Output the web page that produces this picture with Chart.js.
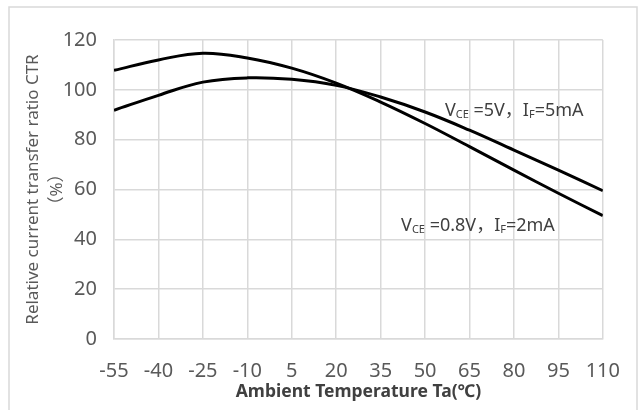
<!DOCTYPE html>
<html>
<head>
<meta charset="utf-8">
<script src="https://cdn.jsdelivr.net/npm/chart.js@4/dist/chart.umd.min.js"></script>
<style>
  html, body { margin: 0; padding: 0; background: #fff; }
  #wrap { width: 640px; height: 410px; position: relative; }
</style>
</head>
<body>
<div id="wrap"><canvas id="c" width="640" height="410"></canvas></div>
<script>
// Data
const temperatures = [-55, -40, -25, -10, 5, 20, 35, 50, 65, 80, 95, 110];
const ctrLowBias = [107.8, 112, 114.7, 112.8, 108.7, 102.7, 95.1, 86.5, 77.2, 67.8, 58.5, 49.5]; // VCE=0.8V, IF=2mA
const ctrHighBias = [91.8, 97.8, 103.1, 104.8, 104.2, 101.8, 97.1, 91.1, 83.8, 75.8, 67.8, 59.5]; // VCE=5V, IF=5mA
const yTicks = [0, 20, 40, 60, 80, 100, 120];
const seriesLabels = [
  { parts: [["V", 0], ["CE", 1], [" =5V", 0], ["，", 2], ["I", 0], ["F", 1], ["=5mA", 0]], x: 56.7, y: 89.5 },
  { parts: [["V", 0], ["CE", 1], [" =0.8V", 0], ["，", 2], ["I", 0], ["F", 1], ["=2mA", 0]], x: 41.9, y: 43.3 }
];

const FONT = "'Noto Sans', 'Noto Sans CJK SC', 'Open Sans', sans-serif";
const CJK = "'Noto Sans CJK SC', 'Noto Sans', sans-serif";
const textColor = '#595959';
const gridColor = '#d9d9d9';

const decor = {
  id: 'decor',
  beforeDraw(chart) {
    const ctx = chart.ctx;
    ctx.save();
    ctx.fillStyle = '#fff';
    ctx.fillRect(0, 0, chart.width, chart.height);
    ctx.strokeStyle = '#d9d9d9';
    ctx.lineWidth = 1.5;
    ctx.strokeRect(9, 7, 628, 420);
    ctx.restore();
  },
  afterDraw(chart) {
    const ctx = chart.ctx;
    const xs = chart.scales.x, ys = chart.scales.y;
    ctx.save();
    ctx.fillStyle = '#404040';
    ctx.textAlign = 'left';
    ctx.textBaseline = 'alphabetic';
    seriesLabels.forEach(lbl => {
      let px = xs.getPixelForValue(lbl.x);
      const py = ys.getPixelForValue(lbl.y);
      lbl.parts.forEach(([t, kind]) => {
        ctx.font = kind === 1 ? '11px ' + FONT : (kind === 2 ? '18px ' + CJK : '18px ' + FONT);
        ctx.fillText(t, px, kind === 1 ? py + 2 : py);
        px += ctx.measureText(t).width;
      });
    });
    ctx.restore();
  }
};

new Chart(document.getElementById('c'), {
  type: 'line',
  data: {
    datasets: [
      {
        label: 'VCE=0.8V, IF=2mA',
        data: temperatures.map((t, i) => ({ x: t, y: ctrLowBias[i] })),
        borderColor: '#000', borderWidth: 3, pointRadius: 0, tension: 0.4, fill: false
      },
      {
        label: 'VCE=5V, IF=5mA',
        data: temperatures.map((t, i) => ({ x: t, y: ctrHighBias[i] })),
        borderColor: '#000', borderWidth: 3, pointRadius: 0, tension: 0.4, fill: false
      }
    ]
  },
  options: {
    responsive: false,
    animation: false,
    devicePixelRatio: 1,
    layout: { padding: { top: 40, right: 34, left: 0, bottom: 0 } },
    plugins: { legend: { display: false }, tooltip: { enabled: false } },
    scales: {
      x: {
        type: 'linear',
        min: -55, max: 110,
        afterBuildTicks(scale) { scale.ticks = temperatures.map(v => ({ value: v })); },
        grid: { color: gridColor, lineWidth: 1.5, drawTicks: false },
        border: { color: gridColor, width: 1.5 },
        ticks: { color: textColor, font: { family: FONT, size: 20 }, padding: 20, maxRotation: 0, autoSkip: false },
        title: { display: true, text: 'Ambient Temperature Ta(℃)', color: '#404040',
                 font: { family: FONT, size: 17.5, weight: 'bold' }, padding: { top: 0, bottom: 7 } },
        afterFit(scale) { scale.height = 71; }
      },
      y: {
        min: 0, max: 120,
        afterBuildTicks(scale) { scale.ticks = yTicks.map(v => ({ value: v })); },
        grid: { color: gridColor, lineWidth: 1.5, drawTicks: false },
        border: { color: gridColor, width: 1.5 },
        ticks: { color: textColor, font: { family: FONT, size: 20 }, padding: 17 },
        title: { display: true, text: ['Relative current transfer ratio CTR', '（%）'], color: textColor,
                 font: { family: FONT, size: 17, lineHeight: 1.4 }, padding: { top: 21, bottom: 0 } },
        afterFit(scale) { scale.width = 114; }
      }
    }
  },
  plugins: [decor]
});
</script>
</body>
</html>
